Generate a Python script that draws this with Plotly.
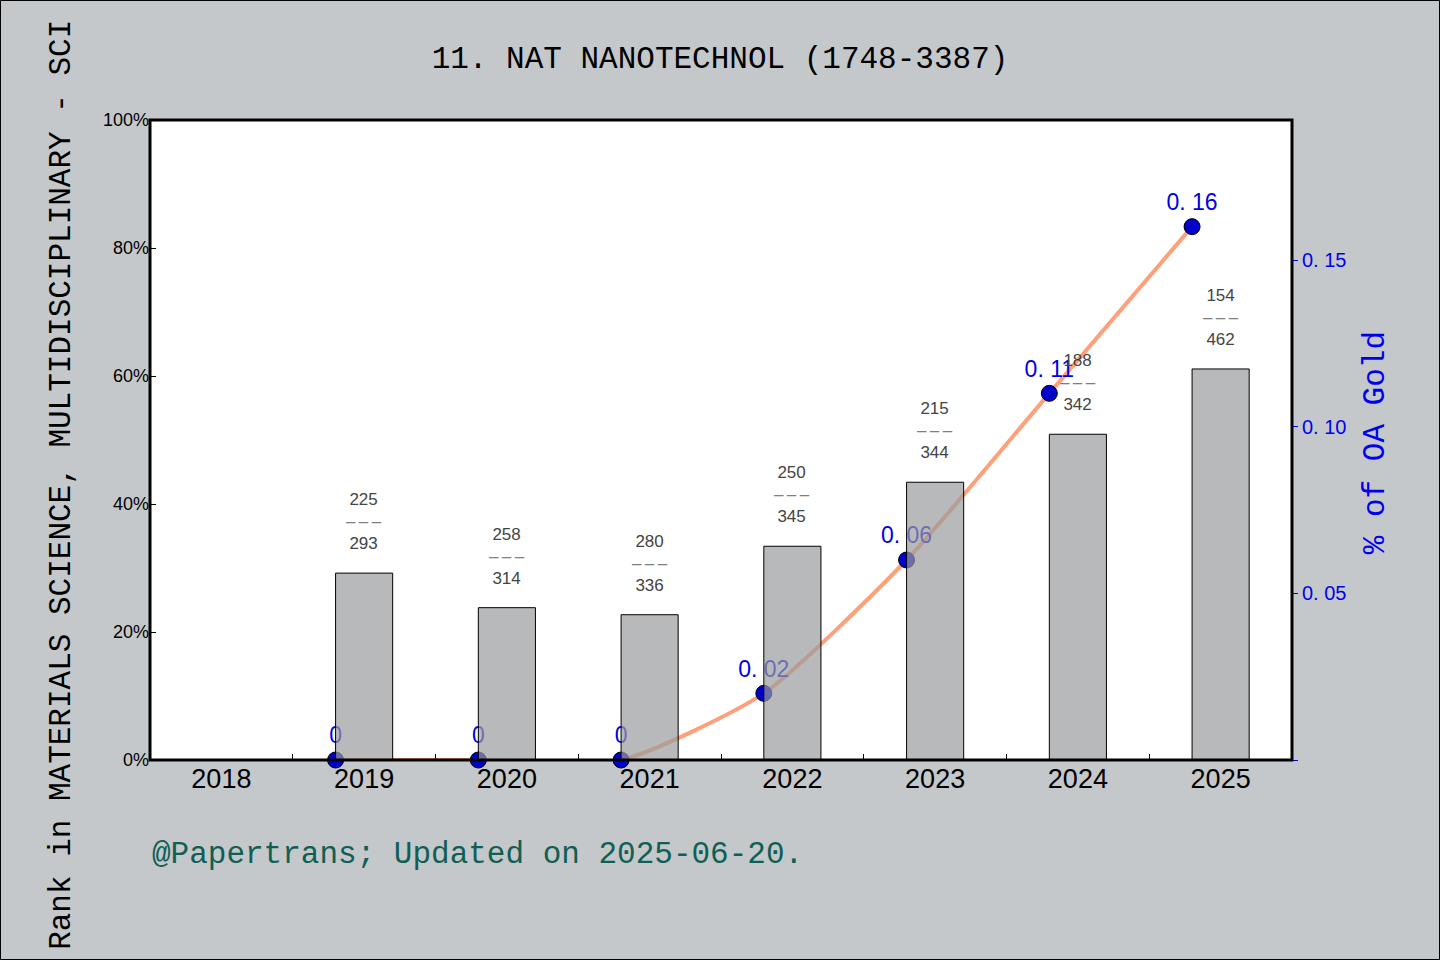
import plotly.graph_objects as go

# data
years = ["2018", "2019", "2020", "2021", "2022", "2023", "2024", "2025"]
bar_years = ["2019", "2020", "2021", "2022", "2023", "2024", "2025"]
rank_pct = [29.2, 23.8, 22.7, 33.4, 43.4, 50.9, 61.1]
rank_num = [225, 258, 280, 250, 215, 188, 154]
rank_total = [293, 314, 336, 345, 344, 342, 462]
oa_gold = [0, 0, 0, 0.02, 0.06, 0.11, 0.16]

mono = "Liberation Mono"
sans = "Liberation Sans"

# category positions (2018 = 0)
bar_x = [years.index(y) for y in bar_years]
line_x = [x - 0.2 for x in bar_x]  # points sit on the left edge of each bar
oa_text = ["0" if v == 0 else f"{v:.2f}".replace(".", ". ") for v in oa_gold]

fig = go.Figure()

# OA gold line (drawn under the bars)
fig.add_trace(go.Scatter(
    x=line_x, y=oa_gold, yaxis="y", mode="lines+markers+text",
    line=dict(color="#ffa07a", width=4, shape="spline", smoothing=0.6),
    marker=dict(color="#0000cc", size=16, line=dict(color="black", width=1)),
    text=oa_text, textposition="top center",
    textfont=dict(family=sans, size=23, color="#0000e0"),
    showlegend=False, cliponaxis=False,
))

# rank bars (overlay axis, so on top of the line)
fig.add_trace(go.Bar(
    x=bar_x, y=rank_pct, yaxis="y2", width=0.4,
    marker=dict(color="rgba(154,155,157,0.7)", line=dict(color="black", width=1)),
    showlegend=False,
))

dash = "<span style='color:#808080'>–\u2009–\u2009–</span>"
annotations = []
for x, v, n, t in zip(bar_x, rank_pct, rank_num, rank_total):
    annotations.append(dict(
        x=x, y=v, xref="x", yref="y2", yanchor="bottom", yshift=18,
        text=f"{n}<br>{dash}<br>{t}", showarrow=False, align="center",
        font=dict(family=sans, size=17, color="#444444"),
    ))

# left axis title (runs off the top like the original)
annotations.append(dict(
    x=-0.077, y=0.43, xref="paper", yref="paper", textangle=-90,
    text="Rank in MATERIALS SCIENCE, MULTIDISCIPLINARY - SCI",
    showarrow=False, xanchor="center", yanchor="middle",
    font=dict(family=mono, size=31, color="black"),
))
# right axis title
annotations.append(dict(
    x=1.0727, y=0.495, xref="paper", yref="paper", textangle=-90,
    text="% of OA Gold", showarrow=False, xanchor="center", yanchor="middle",
    font=dict(family=mono, size=31, color="#0000ee"),
))
# footer
annotations.append(dict(
    x=0, y=-0.148, xref="paper", yref="paper", xanchor="left", yanchor="middle",
    text="@Papertrans; Updated on 2025-06-20.", showarrow=False,
    font=dict(family=mono, size=31, color="#0f5f55"),
))

fig.update_layout(
    width=1440, height=960,
    margin=dict(l=150, r=148, t=120, b=200),
    paper_bgcolor="#c5c8cb", plot_bgcolor="white",
    title=dict(text="11. NAT NANOTECHNOL (1748-3387)", x=0.5, xanchor="center",
               y=1 - 57 / 960, yanchor="middle",
               font=dict(family=mono, size=31, color="black")),
    xaxis=dict(range=[-0.5, 7.5], tickvals=list(range(len(years))), ticktext=years,
               ticks="", showgrid=False, zeroline=False,
               tickfont=dict(family=sans, size=27, color="black"),
               minor=dict(ticks="inside", tick0=0.5, dtick=1, ticklen=6,
                          tickcolor="black", showgrid=False)),
    yaxis=dict(side="right", range=[0, 0.192], showgrid=False, zeroline=False,
               tickvals=[0, 0.05, 0.10, 0.15], ticktext=["", "0. 05", "0. 10", "0. 15"],
               ticks="outside", ticklen=5, tickcolor="#0000ee",
               tickfont=dict(family=sans, size=20, color="#0000ee")),
    yaxis2=dict(overlaying="y", side="left", range=[0, 100], showgrid=False,
                zeroline=False, tickvals=[0, 20, 40, 60, 80, 100],
                ticktext=["0%", "20%", "40%", "60%", "80%", "100%"],
                ticks="inside", ticklen=6, tickcolor="black",
                tickfont=dict(family=sans, size=18, color="black")),
    annotations=annotations,
    shapes=[
        dict(type="rect", xref="paper", yref="paper", x0=0, x1=1, y0=0, y1=1,
             line=dict(color="black", width=3), layer="above"),
        dict(type="rect", xref="paper", yref="paper",
             x0=-149.5 / 1142, x1=1 + 147.5 / 1142, y0=-199.5 / 640, y1=1 + 119.5 / 640,
             line=dict(color="black", width=1), layer="above"),
    ],
)

# drop the browser's default body margin so the figure sits at the top-left corner
fig.write_html("out.html", config={"displayModeBar": False},
               post_script="document.body.style.margin='0';")
